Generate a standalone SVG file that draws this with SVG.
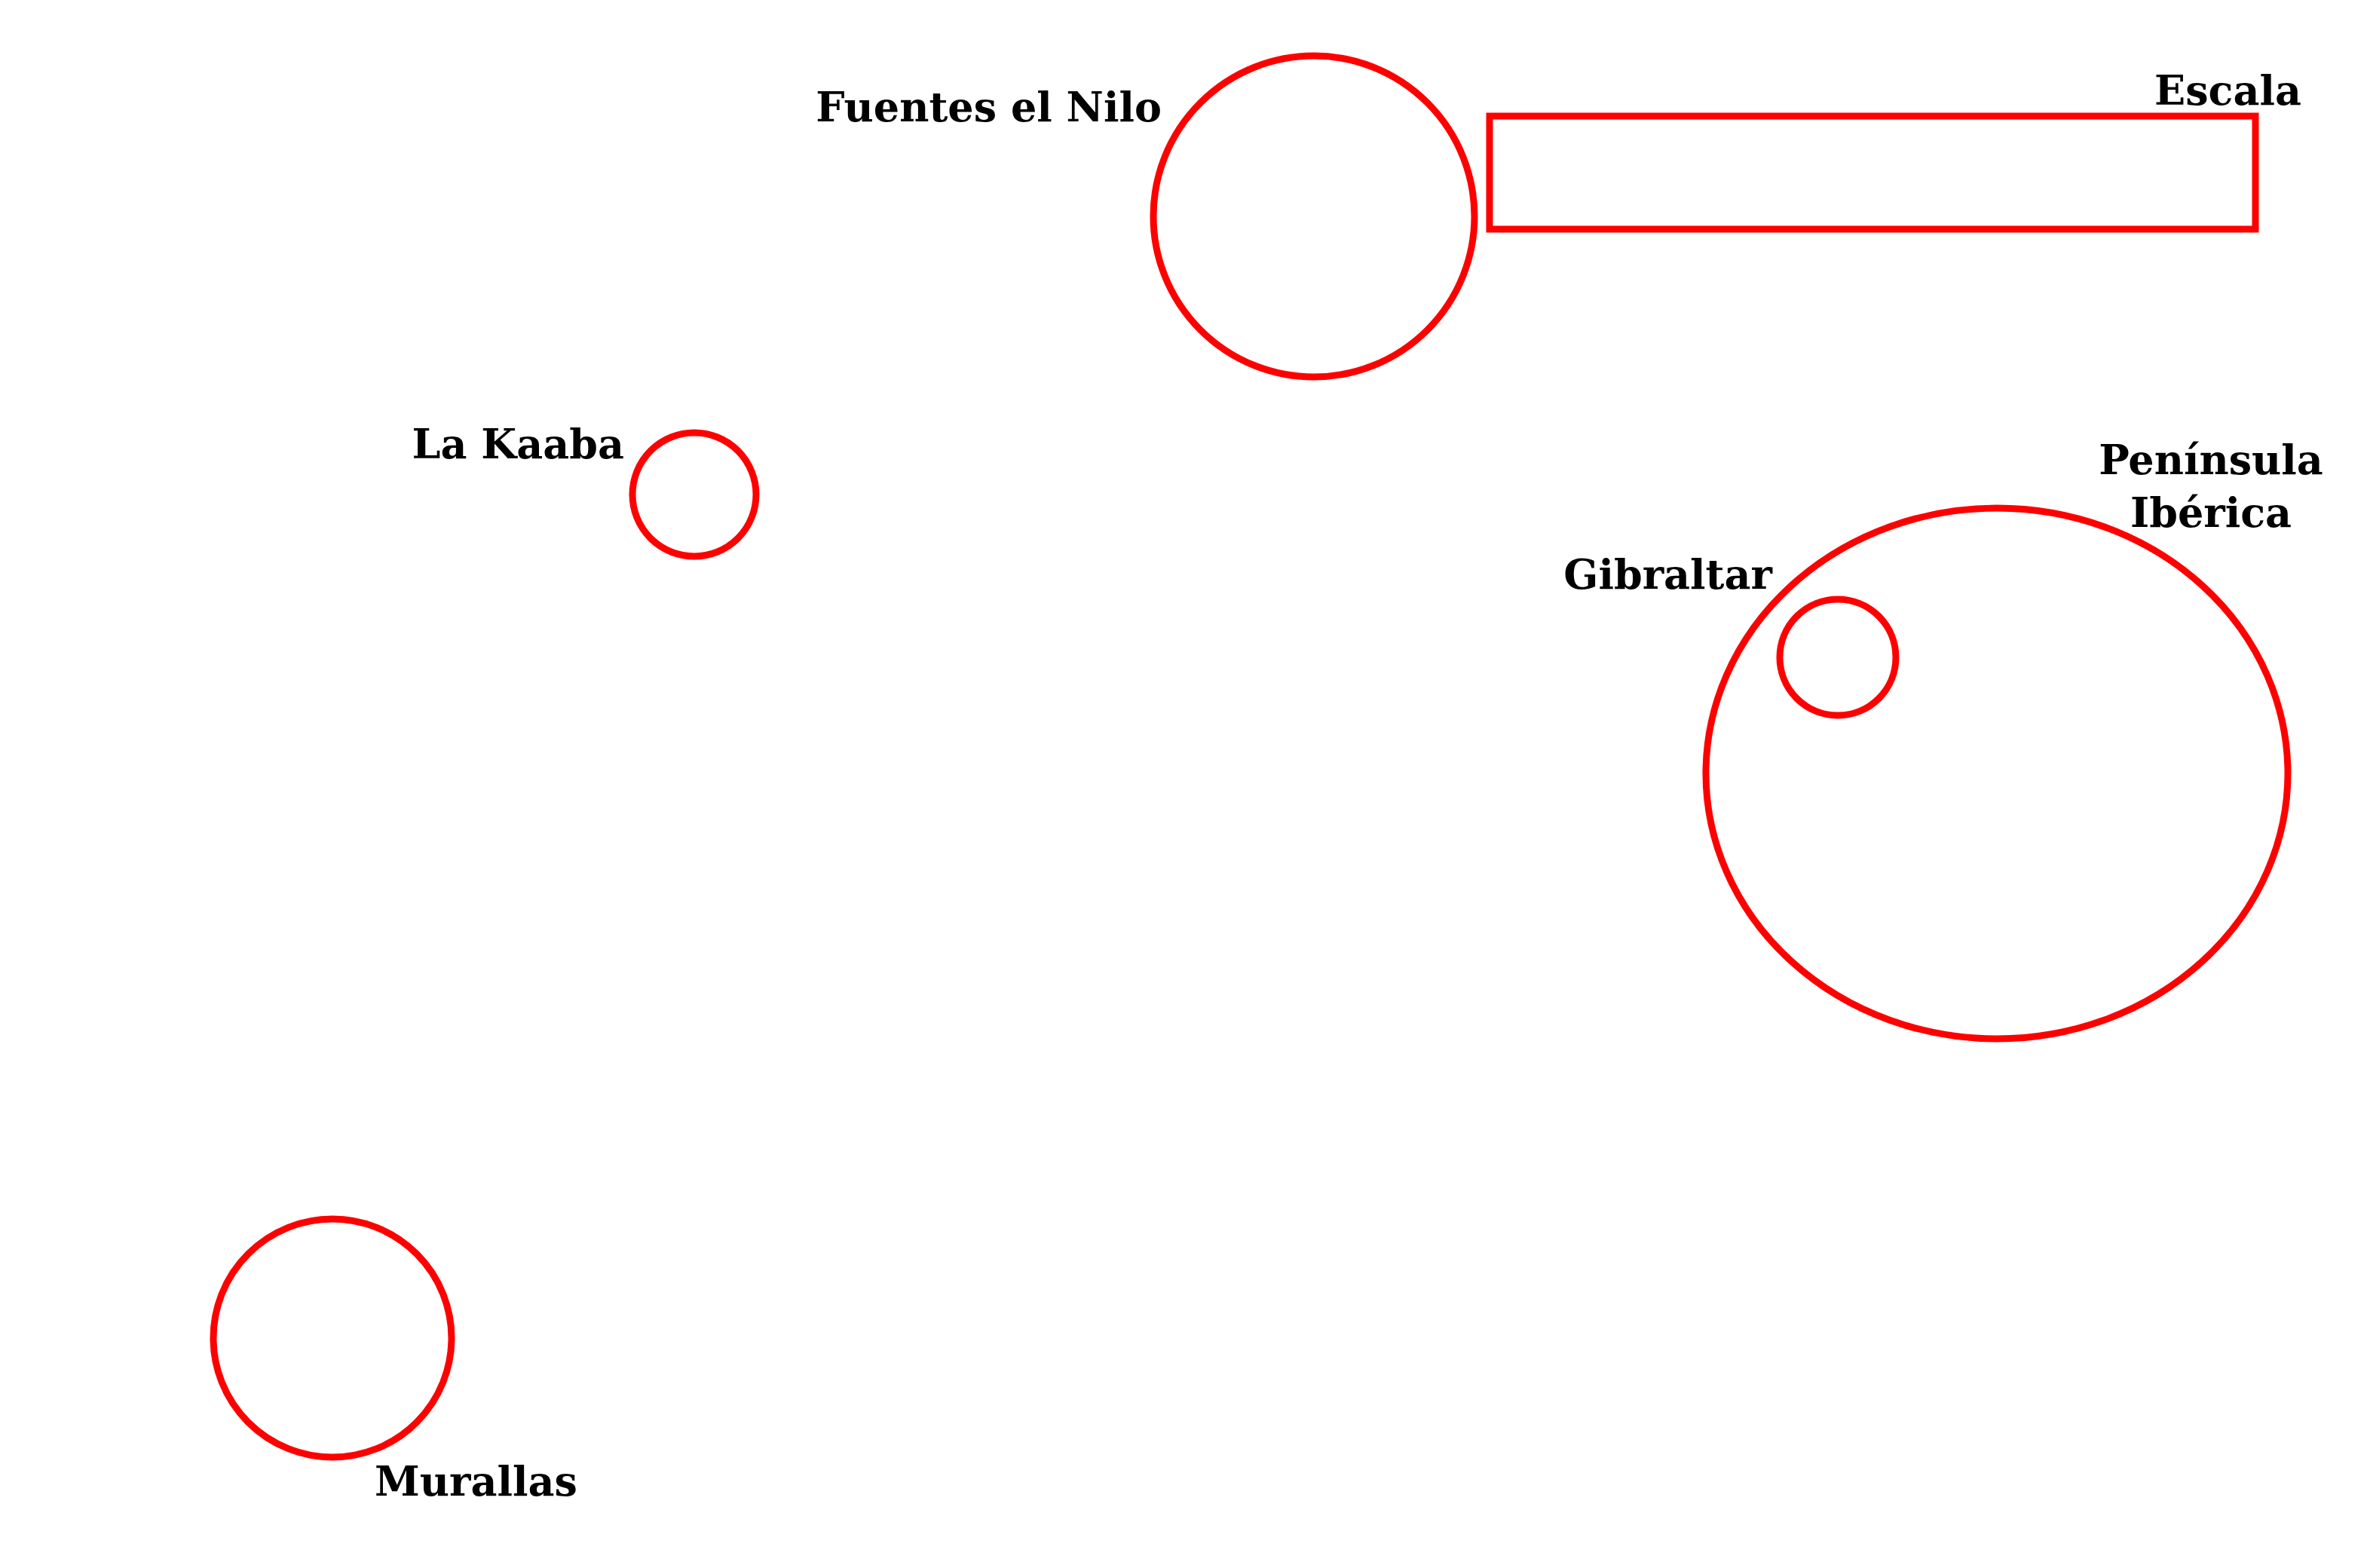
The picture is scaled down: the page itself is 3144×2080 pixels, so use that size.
<svg xmlns="http://www.w3.org/2000/svg" width="3144" height="2080" viewBox="0 0 3144 2080">
<style>
.shape{fill:none;stroke:#ff0000;stroke-width:9}
.lbl{font-family:"DejaVu Serif",serif;font-weight:bold;font-size:54px;fill:#000}
</style>
<rect width="3144" height="2080" fill="#fff"/>
<g id="fuentes-nilo">
<circle class="shape" cx="1743" cy="287" r="213"/>
<text class="lbl" x="1541" y="161" text-anchor="end">Fuentes el Nilo</text>
</g>
<g id="escala">
<rect class="shape" x="1976" y="154" width="1016" height="150"/>
<text class="lbl" x="3053" y="139" text-anchor="end">Escala</text>
</g>
<g id="la-kaaba">
<circle class="shape" cx="921" cy="656" r="82"/>
<text class="lbl" x="828" y="608" text-anchor="end">La Kaaba</text>
</g>
<g id="peninsula-iberica">
<ellipse class="shape" cx="2649" cy="1026" rx="386" ry="352"/>
<text class="lbl" x="2933" y="629" text-anchor="middle">Península</text>
<text class="lbl" x="2933" y="699" text-anchor="middle">Ibérica</text>
</g>
<g id="gibraltar">
<circle class="shape" cx="2438" cy="872" r="77"/>
<text class="lbl" x="2351" y="781" text-anchor="end">Gibraltar</text>
</g>
<g id="murallas">
<circle class="shape" cx="441" cy="1775" r="158"/>
<text class="lbl" x="497" y="1984">Murallas</text>
</g>
<g id="connectors"></g>
</svg>
